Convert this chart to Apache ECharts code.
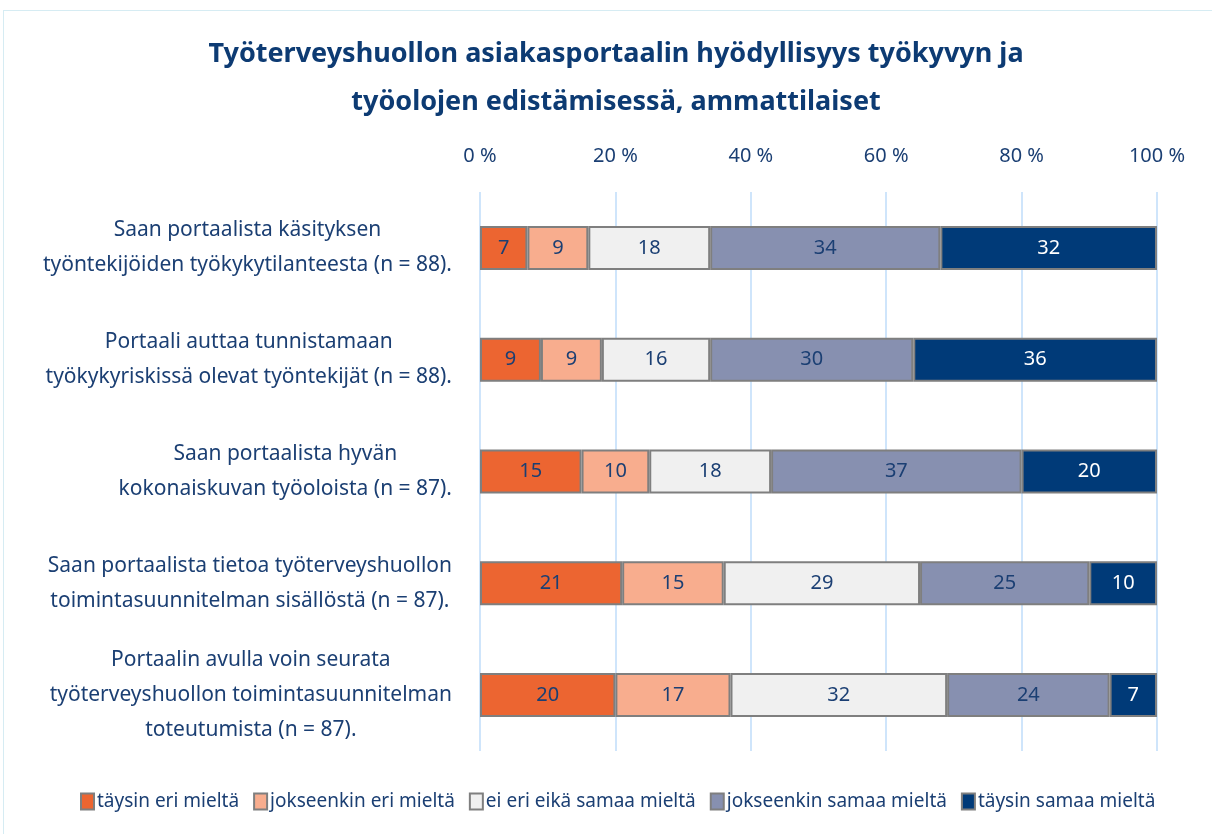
<!DOCTYPE html>
<html>
<head>
<meta charset="utf-8">
<script src="https://cdn.jsdelivr.net/npm/echarts@6/dist/echarts.min.js"></script>
<style>
  html, body { margin: 0; padding: 0; background: #fff; }
  #frame { position: absolute; left: 3px; top: 10px; width: 1209px; height: 824px;
    border-top: 1px solid #d6ecf3; border-left: 1px solid #d6ecf3; box-sizing: border-box; }
  #chart { width: 1212px; height: 834px; }
</style>
</head>
<body>
<div id="frame"></div>
<div id="chart"></div>
<script>
const categories = [
  "Saan portaalista käsityksen\ntyöntekijöiden työkykytilanteesta (n = 88).",
  "Portaali auttaa tunnistamaan\ntyökykyriskissä olevat työntekijät (n = 88).",
  "Saan portaalista hyvän\nkokonaiskuvan työoloista (n = 87).",
  "Saan portaalista tietoa työterveyshuollon\ntoimintasuunnitelman sisällöstä (n = 87).",
  "Portaalin avulla voin seurata\ntyöterveyshuollon toimintasuunnitelman\ntoteutumista (n = 87)."
];
const seriesNames = [
  "täysin eri mieltä",
  "jokseenkin eri mieltä",
  "ei eri eikä samaa mieltä",
  "jokseenkin samaa mieltä",
  "täysin samaa mieltä"
];
const stronglyDisagree = [7, 9, 15, 21, 20];
const somewhatDisagree = [9, 9, 10, 15, 17];
const neutral = [18, 16, 18, 29, 32];
const somewhatAgree = [34, 30, 37, 25, 24];
const stronglyAgree = [32, 36, 20, 10, 7];

const colors = ["#ec6531", "#f8ad8e", "#f0f0f0", "#8790b0", "#003a78"];
const labelColors = ["#1b3f73", "#1b3f73", "#1b3f73", "#1b3f73", "#ffffff"];
const values = [stronglyDisagree, somewhatDisagree, neutral, somewhatAgree, stronglyAgree];

const catFont = "21px 'Noto Sans'";
// centre lines of each label, keep right edge of widest line at the axis
const ctx = document.createElement("canvas").getContext("2d");
ctx.font = catFont;
const catData = categories.map(c => {
  const w = Math.max(...c.split("\n").map(l => ctx.measureText(l).width));
  return { value: c, textStyle: { align: "center", padding: [0, w, 0, 0] } };
});

const chart = echarts.init(document.getElementById("chart"));
chart.setOption({
  backgroundColor: "transparent",
  title: {
    text: "Työterveyshuollon asiakasportaalin hyödyllisyys työkyvyn ja\ntyöolojen edistämisessä, ammattilaiset",
    left: 611,
    textAlign: "center",
    top: 25,
    textStyle: {
      color: "#0d3b73",
      fontFamily: "Noto Sans",
      fontWeight: "bold",
      fontSize: 27,
      lineHeight: 48
    }
  },
  legend: {
    bottom: 18,
    left: 75,
    itemWidth: 13,
    itemHeight: 16,
    itemGap: 14,
    icon: "rect",
    textStyle: { color: "#1b3f73", fontFamily: "Noto Sans", fontSize: 19, padding: [0, 0, 0, -2] },
    data: seriesNames.map((n, i) => ({
      name: n,
      itemStyle: { color: colors[i], borderColor: "#7f7f7f", borderWidth: 2 }
    }))
  },
  grid: { left: 480, right: 55, top: 192, bottom: 83 },
  xAxis: {
    type: "value",
    position: "top",
    min: 0,
    max: 100,
    interval: 20,
    axisLine: { show: false },
    axisTick: { show: false },
    axisLabel: {
      formatter: "{value} %",
      color: "#1b3f73",
      fontFamily: "Noto Sans",
      fontSize: 20,
      margin: 26
    },
    splitLine: { lineStyle: { color: "#cfe5fb", width: 2 } }
  },
  yAxis: {
    type: "category",
    inverse: true,
    data: catData,
    axisLine: { show: false },
    axisTick: { show: false },
    axisLabel: {
      color: "#1b3f73",
      fontFamily: "Noto Sans",
      fontSize: 21,
      lineHeight: 35,
      margin: 28
    }
  },
  series: seriesNames.map((n, i) => ({
    name: n,
    type: "bar",
    stack: "total",
    barWidth: 44,
    data: values[i],
    itemStyle: { color: colors[i], borderColor: "#7f7f7f", borderWidth: 2 },
    label: {
      show: true,
      position: "inside",
      color: labelColors[i],
      fontFamily: "Noto Sans",
      fontSize: 20
    },
    emphasis: { disabled: true }
  })),
  animation: false
});
</script>
</body>
</html>
